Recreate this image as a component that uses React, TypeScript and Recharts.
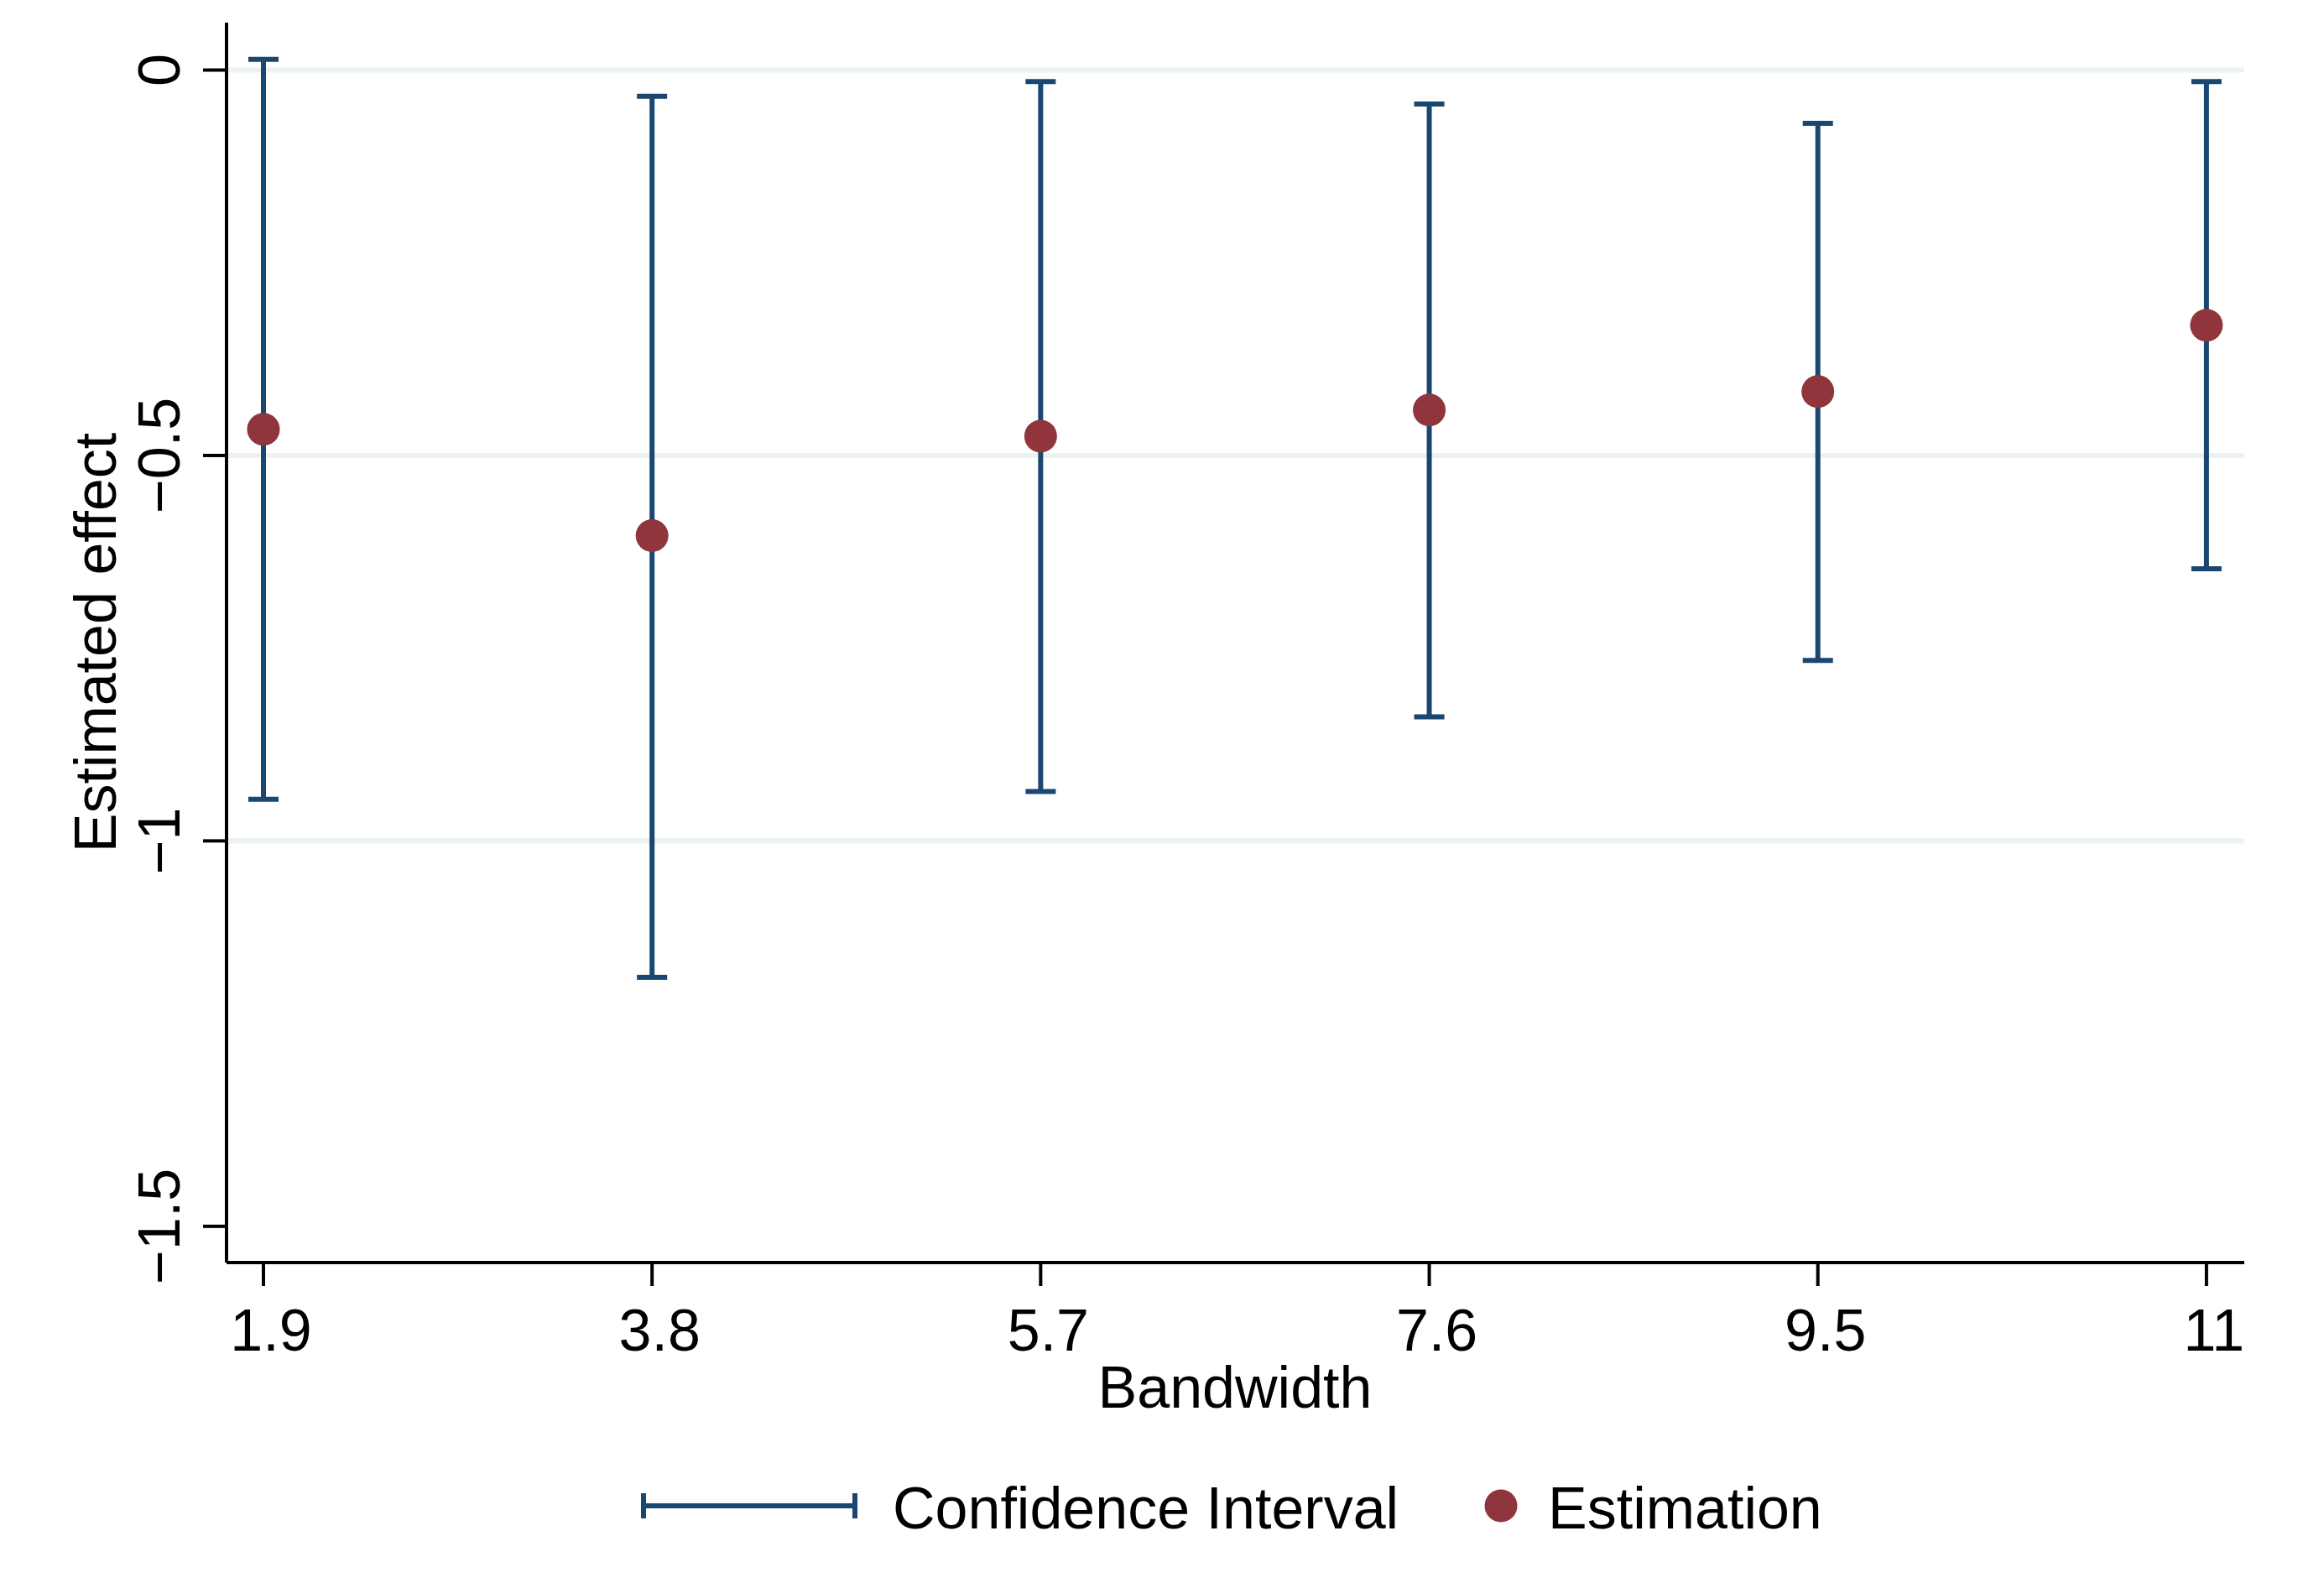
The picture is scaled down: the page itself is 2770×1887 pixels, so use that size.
import React from 'react';
import { ComposedChart, Scatter, ErrorBar, XAxis, YAxis, ReferenceLine } from 'recharts';

const bandwidths = [1.9, 3.8, 5.7, 7.6, 9.5, 11.4];
const bandwidthLabels = ['1.9', '3.8', '5.7', '7.6', '9.5', '11'];
const estimates = [-0.466, -0.604, -0.475, -0.441, -0.417, -0.331];
const ciLower = [-0.946, -1.177, -0.936, -0.839, -0.766, -0.647];
const ciUpper = [0.014, -0.034, -0.015, -0.044, -0.069, -0.015];
const yTicks = [0, -0.5, -1, -1.5];
const yTickLabels = ['0', '\u22120.5', '\u22121', '\u22121.5'];
const gridValues = [0, -0.5, -1];

const NAVY = '#1a476f';
const MAROON = '#90353b';
const GRID = '#eaf2f3';
const FONT = '"Liberation Sans", Arial, sans-serif';

const data = bandwidths.map((bw, i) => ({
  bw,
  est: estimates[i],
  ci: [estimates[i] - ciLower[i], ciUpper[i] - estimates[i]],
}));

const YTick = (props: any) => {
  const idx = yTicks.indexOf(props.payload.value);
  const x = props.x - 28;
  return (
    <text x={x} y={props.y} transform={`rotate(-90 ${x} ${props.y})`} textAnchor="middle"
      fontFamily={FONT} fontSize={70} fill="#000">
      {yTickLabels[idx]}
    </text>
  );
};

const XTick = (props: any) => {
  const idx = bandwidths.indexOf(props.payload.value);
  return (
    <text x={props.x + 9} y={props.y + 77} textAnchor="middle" fontFamily={FONT} fontSize={70} fill="#000">
      {bandwidthLabels[idx]}
    </text>
  );
};

const Dot = (props: any) => <circle cx={props.cx} cy={props.cy} r={19.5} fill={MAROON} />;

export default function App() {
  return (
    <div style={{ position: 'absolute', left: 0, top: 0, width: 2770, height: 1887, background: '#fff' }}>
      <ComposedChart width={2770} height={1887} data={data} margin={{ top: 27, right: 95, bottom: 222, left: 0 }}>
        {gridValues.map((v) => (
          <ReferenceLine key={v} y={v} stroke={GRID} strokeWidth={6} />
        ))}
        <XAxis
          dataKey="bw"
          type="number"
          domain={[1.7195, 11.585]}
          ticks={bandwidths}
          height={160}
          tickSize={28}
          tickMargin={0}
          tick={<XTick />}
          axisLine={{ stroke: '#000', strokeWidth: 4 }}
          tickLine={{ stroke: '#000', strokeWidth: 4 }}
          allowDataOverflow
          label={{
            content: () => (
              <text x={1472} y={1678} textAnchor="middle" fontFamily={FONT} fontSize={70} fill="#000">
                Bandwidth
              </text>
            ),
          }}
        />
        <YAxis
          type="number"
          domain={[-1.547, 0.0615]}
          ticks={yTicks}
          width={270}
          tickSize={28}
          tickMargin={0}
          tick={<YTick />}
          axisLine={{ stroke: '#000', strokeWidth: 4 }}
          tickLine={{ stroke: '#000', strokeWidth: 4 }}
          allowDataOverflow
          label={{
            content: () => (
              <text x={138} y={766} transform="rotate(-90 138 766)" textAnchor="middle"
                fontFamily={FONT} fontSize={70} fill="#000">
                Estimated effect
              </text>
            ),
          }}
        />
        <Scatter dataKey="est" shape={<Dot />} isAnimationActive={false}>
          <ErrorBar dataKey="ci" width={18} stroke={NAVY} strokeWidth={6} direction="y" isAnimationActive={false} />
        </Scatter>
      </ComposedChart>
      <svg width={2770} height={1887} style={{ position: 'absolute', left: 0, top: 0, pointerEvents: 'none' }}>
        <line x1={764} y1={1795} x2={1022} y2={1795} stroke={NAVY} strokeWidth={6} />
        <line x1={767} y1={1780} x2={767} y2={1810} stroke={NAVY} strokeWidth={6} />
        <line x1={1019} y1={1780} x2={1019} y2={1810} stroke={NAVY} strokeWidth={6} />
        <text x={1064} y={1822} fontFamily={FONT} fontSize={70} fill="#000">Confidence Interval</text>
        <circle cx={1789} cy={1795} r={19.5} fill={MAROON} />
        <text x={1845} y={1822} fontFamily={FONT} fontSize={70} fill="#000">Estimation</text>
      </svg>
    </div>
  );
}
